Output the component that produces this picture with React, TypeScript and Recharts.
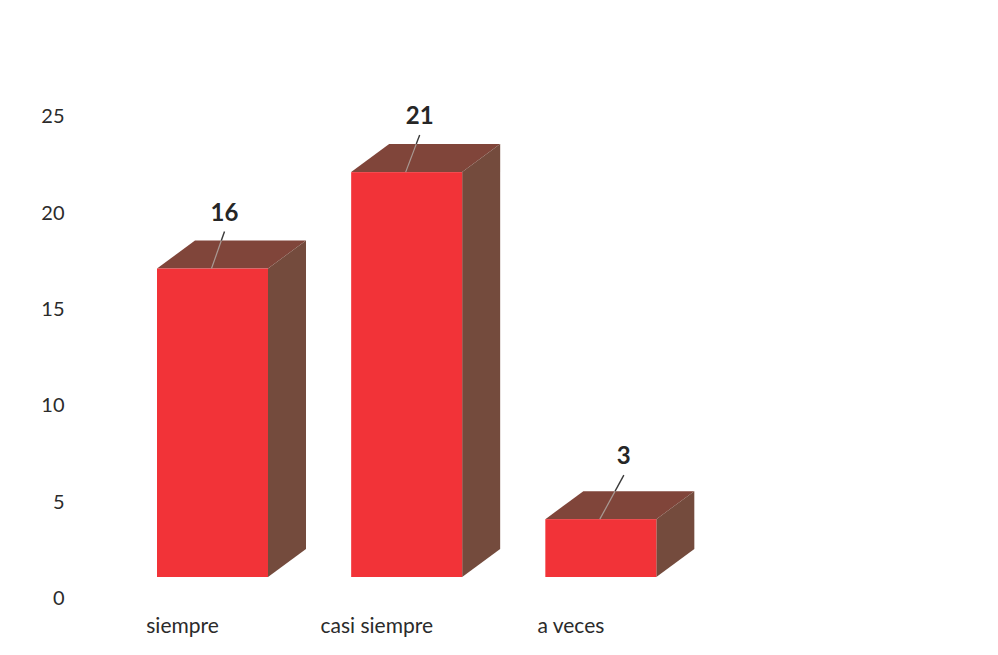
import React from "react";
import { BarChart, Bar, XAxis, YAxis } from "recharts";

const categories = ["siempre", "casi siempre", "a veces"];
const counts = [16, 21, 3];
const yTicks = [0, 5, 10, 15, 20, 25];

const rows = categories.map((name, i) => ({ name, count: counts[i] }));

const FONT = "Lato, 'Open Sans', sans-serif";
const FLOOR_LIFT = 21;
const DEPTH_X = 38;
const DEPTH_Y = 28;
const LABEL_GAP = 11;
const LEADER_DX: Record<string, number> = { siempre: 13, "casi siempre": 14, "a veces": 24 };
const LEADER_RISE: Record<string, number> = { siempre: 37, "casi siempre": 37, "a veces": 44 };

function Box(props: any) {
  const { x, y, width, height, name, count } = props;
  const top = y - FLOOR_LIFT;
  const left = x;
  const right = x + width;
  const bottom = top + height;
  const cx = x + width / 2 - 1;
  const dx = LEADER_DX[name];
  const rise = LEADER_RISE[name];
  const edge = DEPTH_Y / rise;
  return (
    <g>
      <polygon
        points={`${left},${top} ${left + DEPTH_X},${top - DEPTH_Y} ${right + DEPTH_X},${top - DEPTH_Y} ${right},${top}`}
        fill="#80453A"
      />
      <polygon
        points={`${right},${top} ${right + DEPTH_X},${top - DEPTH_Y} ${right + DEPTH_X},${bottom - DEPTH_Y} ${right},${bottom}`}
        fill="#744B3D"
      />
      <rect x={left} y={top} width={width} height={height} fill="#F23338" />
      <line x1={cx} y1={top} x2={cx + dx * edge} y2={top - DEPTH_Y} stroke="#A89A94" strokeWidth={1.2} />
      <line x1={cx + dx * edge} y1={top - DEPTH_Y} x2={cx + dx} y2={top - rise} stroke="#3A3A3A" strokeWidth={1.4} />
      <text
        x={cx + dx}
        y={top - rise - LABEL_GAP}
        textAnchor="middle"
        fontFamily={FONT}
        fontSize={24}
        fontWeight={700}
        fill="#262626"
      >
        {count}
      </text>
    </g>
  );
}

function CategoryTick(props: any) {
  const { x, y, payload } = props;
  return (
    <text x={x - 30} y={y + 27} textAnchor="middle" fontFamily={FONT} fontSize={21} fill="#2b2b2b">
      {payload.value}
    </text>
  );
}

export default function App() {
  return (
    <div style={{ position: "absolute", left: 0, top: 0, width: 998, height: 655, background: "#fff" }}>
      <BarChart
        width={998}
        height={655}
        data={rows}
        margin={{ top: 116, right: 300, bottom: 0, left: 0 }}
        barCategoryGap={41.5}
      >
        <YAxis
          type="number"
          domain={[0, 25]}
          ticks={yTicks}
          width={115.5}
          axisLine={false}
          tickLine={false}
          tickSize={0}
          tickMargin={51}
          tick={{ fontFamily: FONT, fontSize: 20, fill: "#2b2b2b" }}
        />
        <XAxis dataKey="name" height={57} axisLine={false} tickLine={false} tick={<CategoryTick />} interval={0} />
        <Bar dataKey="count" isAnimationActive={false} shape={<Box />} />
      </BarChart>
    </div>
  );
}
